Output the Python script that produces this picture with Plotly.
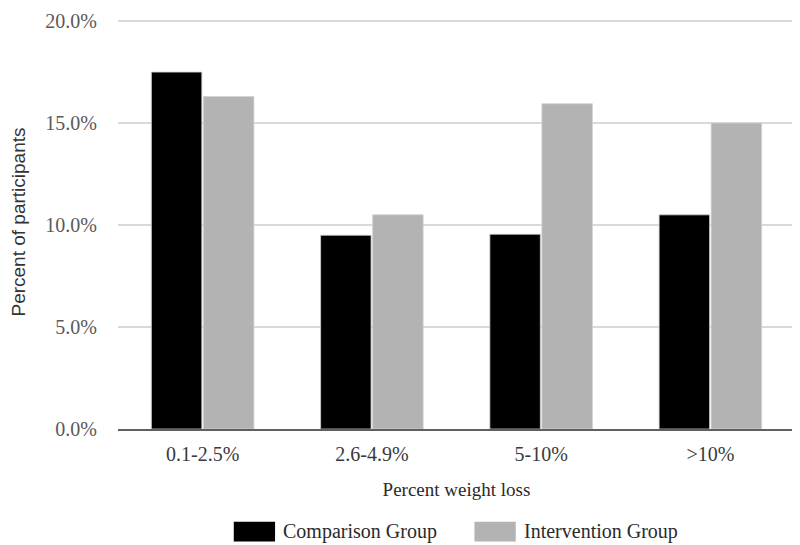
import plotly.graph_objects as go

categories = ["0.1-2.5%", "2.6-4.9%", "5-10%", ">10%"]
comparison = [17.5, 9.5, 9.55, 10.5]
intervention = [16.3, 10.5, 15.95, 15.0]
series_names = ["Comparison Group", "Intervention Group"]
colors = ["#000000", "#b3b3b3"]
y_ticks = [0, 5, 10, 15, 20]
y_tick_labels = ["0.0%", "5.0%", "10.0%", "15.0%", "20.0%"]

SERIF = "Liberation Serif"
SANS = "Liberation Sans"

fig = go.Figure()
for name, vals, col in zip(series_names, [comparison, intervention], colors):
    fig.add_trace(go.Bar(
        x=categories, y=vals, name=name,
        marker=dict(color=col, line=dict(color="#cfcfcf", width=0.8)),
        showlegend=False,
    ))

fig.update_layout(
    width=792, height=537,
    margin=dict(l=109, r=5, t=2, b=116),
    paper_bgcolor="white", plot_bgcolor="white",
    barmode="group", bargap=0.385, bargroupgap=0.03,
    font=dict(family=SERIF, size=19, color="#404040"),
    xaxis=dict(
        showgrid=False, showline=True, linecolor="#606060", linewidth=2,
        ticks="outside", ticklen=6, tickcolor="rgba(0,0,0,0)",
        tickfont=dict(family=SERIF, size=20, color="#3a3a3a"),
        title=dict(text="Percent weight loss", font=dict(family=SERIF, size=19, color="#2a2a2a"), standoff=19),
    ),
    yaxis=dict(
        range=[0, 20.3], tickvals=y_ticks, ticktext=y_tick_labels,
        ticklabeloverflow="allow",
        showgrid=True, gridcolor="#d9d9d9", gridwidth=1.5,
        zeroline=False, showline=False,
        ticks="outside", ticklen=16, tickcolor="rgba(0,0,0,0)",
        tickfont=dict(family=SERIF, size=20, color="#595959"),
        title=dict(text="Percent of participants", font=dict(family=SANS, size=19, color="#333333"), standoff=22),
    ),
)

# custom legend swatches below plot
legend_x = [0.171, 0.5265]
for name, col, lx in zip(series_names, colors, legend_x):
    fig.add_shape(type="rect", xref="paper", yref="paper",
                  x0=lx, x1=lx + 0.061, y0=-0.272, y1=-0.224,
                  fillcolor=col, line=dict(width=0))
    fig.add_annotation(xref="paper", yref="paper", x=lx + 0.0705, y=-0.248,
                       text=name, showarrow=False, xanchor="left", yanchor="middle",
                       font=dict(family=SERIF, size=20, color="#2a2a2a"))

fig.write_html("out.html")
